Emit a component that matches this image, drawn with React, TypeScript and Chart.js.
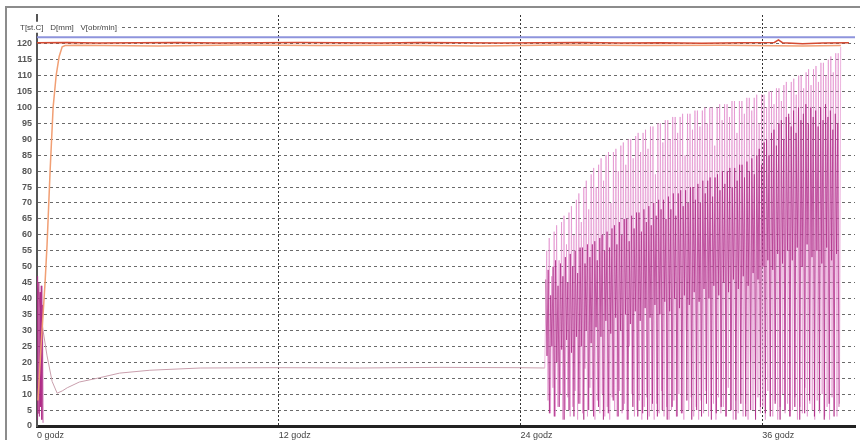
import React, { useEffect, useRef } from 'react';
import { Chart, registerables } from 'chart.js';

Chart.register(...registerables);

// ---- axis ticks / labels ----
const xTickHours = [0, 12, 24, 36];
const xTickLabels = ['0 godz', '12 godz', '24 godz', '36 godz'];
const yTicks = [0, 5, 10, 15, 20, 25, 30, 35, 40, 45, 50, 55, 60, 65, 70, 75, 80, 85, 90, 95, 100, 105, 110, 115, 120, 125];
const axisTitle = 'T[st.C]   D[mm]   V[obr/min]';

// ---- blue limit line ----
const limitTimes = [0, 40.6];
const limitValues = [122, 122];

// ---- red line (T) ----
const redTimes = [0, 1.5, 3, 5, 7, 9, 11, 13, 15, 17, 19, 21, 23, 25, 27, 29, 31, 33, 35, 36.6, 36.8, 37, 38, 39, 40.3];
const redValues = [120.3, 120.4, 120.2, 120.3, 120.4, 120.2, 120.3, 120.4, 120.3, 120.2, 120.4, 120.3, 120.2, 120.3, 120.4, 120.2, 120.3, 120.1, 120.3, 120.4, 121.2, 120.3, 120.0, 120.2, 120.3];

// ---- orange line ----
const orangeTimes = [0.05, 0.2, 0.4, 0.5, 0.65, 0.8, 0.95, 1.1, 1.25, 1.4, 2, 6, 10, 14, 18, 22, 26, 30, 34, 38, 39.9];
const orangeValues = [8, 25, 45, 57, 80, 100, 110, 116, 119, 119.4, 119.5, 119.3, 119.6, 119.4, 119.5, 119.3, 119.6, 119.4, 119.5, 119.3, 119.4];

// ---- D (light pink) : start + flat part ----
const dTimes = [0, 0.15, 0.3, 0.5, 0.75, 1.0, 1.25, 1.5, 2.1, 3.0, 4.1, 5.6, 8.1, 12, 16, 20, 24, 25.2];
const dValues = [46, 38, 30, 22, 14, 10.3, 11, 12, 13.8, 15, 16.6, 17.5, 18.2, 18.3, 18.2, 18.4, 18.3, 18.2];

// ---- D oscillation (25.3h .. 39.9h) ----
const dOscStart = 25.3;
const dOscStep = 0.0613;
const dOscHighs = [
  55, 59, 47, 61, 63, 52, 64, 66, 57, 67,
  69, 60, 71, 73, 64, 75, 77, 68, 79, 81,
  75, 82, 84, 77, 85, 86, 70, 86, 87, 80,
  88, 89, 82, 90, 90, 84, 91, 92, 86, 92,
  93, 87, 94, 94, 79, 95, 95, 89, 96, 96,
  90, 97, 97, 92, 97, 98, 85, 98, 98, 93,
  99, 99, 94, 99, 100, 95, 100, 100, 88, 100,
  101, 96, 101, 101, 97, 102, 102, 92, 102, 102,
  98, 103, 103, 99, 103, 104, 95, 104, 104, 100,
  105, 105, 101, 106, 106, 102, 107, 108, 97, 108,
  109, 104, 110, 110, 106, 111, 112, 107, 112, 113,
  108, 114, 114, 110, 115, 116, 111, 117, 117, 119,
];
const dOscLows = [
  8, 4, 12, 3, 6, 10, 2, 5, 9, 3,
  6, 11, 2, 7, 4, 18, 3, 12, 5, 2,
  8, 4, 10, 3, 6, 2, 9, 5, 3, 11,
  4, 7, 2, 25, 10, 3, 5, 8, 2, 6,
  9, 3, 5, 2, 7, 4, 11, 3, 6, 2,
  5, 8, 3, 10, 4, 2, 30, 5, 9, 3,
  6, 2, 8, 4, 11, 3, 5, 7, 2, 9,
  4, 6, 3, 12, 5, 2, 8, 4, 10, 3,
  7, 2, 20, 5, 3, 9, 4, 6, 2, 11,
  5, 3, 8, 2, 6, 10, 4, 7, 3, 5,
  9, 2, 6, 4, 12, 3, 7, 5, 2, 8,
  4, 10, 3, 6, 2, 9, 5, 3, 7,
];

// ---- V (magenta) : initial burst ----
const vStartTimes = [0, 0.03, 0.06, 0.09, 0.12, 0.15, 0.18, 0.21, 0.24, 0.27, 0.3];
const vStartValues = [2, 47, 4, 45, 3, 42, 6, 44, 2, 38, 1];

// ---- V oscillation (25.25h .. 39.8h) ----
const vOscStart = 25.25;
const vOscStep = 0.0609;
const vOscHighs = [
  46, 49, 41, 50, 52, 44, 51, 47, 53, 45,
  54, 50, 55, 48, 56, 56, 51, 57, 53, 57,
  58, 52, 59, 60, 55, 61, 56, 62, 63, 57,
  64, 60, 65, 65, 58, 66, 62, 67, 67, 61,
  68, 64, 69, 63, 70, 66, 71, 68, 71, 65,
  72, 68, 73, 66, 73, 74, 69, 74, 70, 75,
  75, 71, 76, 70, 77, 73, 77, 78, 72, 78,
  79, 74, 80, 76, 80, 81, 75, 81, 77, 82,
  82, 78, 83, 80, 84, 79, 85, 87, 82, 89,
  90, 85, 92, 93, 88, 95, 96, 90, 97, 98,
  94, 99, 92, 100, 96, 98, 101, 95, 100, 97,
  99, 94, 100, 96, 101, 97, 99, 93, 98, 95,
];
const vOscLows = [
  22, 4, 25, 3, 20, 6, 24, 2, 27, 5,
  23, 3, 28, 7, 25, 2, 30, 5, 26, 3,
  31, 6, 28, 2, 33, 4, 29, 8, 34, 3,
  30, 5, 35, 2, 32, 6, 36, 3, 33, 4,
  37, 2, 34, 7, 38, 3, 35, 5, 39, 2,
  36, 6, 40, 3, 37, 4, 41, 8, 38, 2,
  42, 5, 39, 3, 43, 7, 40, 2, 44, 4,
  41, 6, 45, 3, 42, 5, 46, 2, 43, 7,
  47, 3, 44, 5, 48, 2, 46, 6, 50, 4,
  52, 3, 49, 7, 54, 2, 51, 5, 55, 3,
  52, 6, 56, 2, 50, 4, 57, 8, 53, 3,
  55, 5, 51, 2, 56, 7, 52, 3, 54, 6,
];

type Pt = { x: number; y: number | null };

function zipPoints(times: number[], values: number[]): Pt[] {
  return times.map((t, i) => ({ x: t, y: values[i] }));
}

function oscPoints(start: number, step: number, highs: number[], lows: number[]): Pt[] {
  const seq: number[] = [];
  highs.forEach((h, i) => {
    seq.push(h);
    if (i < lows.length) seq.push(lows[i]);
  });
  return seq.map((v, i) => ({ x: start + i * step, y: v }));
}

const axisTitlePlugin = {
  id: 'axisTitleText',
  afterDraw(chart: any) {
    const { ctx, chartArea } = chart;
    const y = chart.scales.y;
    const py = y.getPixelForValue(125);
    ctx.save();
    ctx.font = '8px "Liberation Sans", Arial, sans-serif';
    const x0 = chartArea.left - 17;
    const w = ctx.measureText(axisTitle).width;
    ctx.fillStyle = '#ffffff';
    ctx.fillRect(x0 - 2, py - 6, w + 4, 11);
    ctx.fillStyle = '#444';
    ctx.textBaseline = 'middle';
    ctx.textAlign = 'left';
    ctx.fillText(axisTitle, x0, py);
    ctx.restore();
  },
};

export default function App() {
  const ref = useRef<HTMLCanvasElement>(null);

  useEffect(() => {
    document.body.style.margin = '0';
    const canvas = ref.current!;
    const dData: Pt[] = [...zipPoints(dTimes, dValues), ...oscPoints(dOscStart, dOscStep, dOscHighs, dOscLows)];
    const vData: Pt[] = [
      ...zipPoints(vStartTimes, vStartValues),
      { x: 0.35, y: null },
      ...oscPoints(vOscStart, vOscStep, vOscHighs, vOscLows),
    ];

    const chart = new Chart(canvas, {
      type: 'line',
      data: {
        datasets: [
          {
            label: 'limit',
            data: zipPoints(limitTimes, limitValues),
            borderColor: '#8e94dc',
            borderWidth: 2,
            pointRadius: 0,
            tension: 0,
          },
          {
            label: 'T',
            data: zipPoints(redTimes, redValues),
            borderColor: '#d44a32',
            borderWidth: 1.5,
            pointRadius: 0,
            tension: 0,
          },
          {
            label: 'T2',
            data: zipPoints(orangeTimes, orangeValues),
            borderColor: '#f19f74',
            borderWidth: 1.5,
            pointRadius: 0,
            tension: 0,
          },
          {
            label: 'V',
            data: vData,
            borderColor: 'rgba(172,40,132,0.7)',
            borderWidth: 1,
            pointRadius: 0,
            tension: 0,
            spanGaps: false,
          },
          {
            label: 'D',
            data: dData,
            borderColor: 'rgba(226,140,205,0.65)',
            borderWidth: 1,
            pointRadius: 0,
            tension: 0,
            segment: {
              borderColor: (c: any) => (c.p0.parsed.x < 25.2 ? '#c99fad' : 'rgba(226,140,205,0.65)'),
            },
          },
        ],
      },
      options: {
        animation: false,
        responsive: false,
        devicePixelRatio: 1,
        parsing: false as any,
        normalized: true,
        layout: { padding: { left: 0, right: 5, top: 15, bottom: 0 } },
        plugins: {
          legend: { display: false },
          tooltip: { enabled: false },
        },
        scales: {
          x: {
            type: 'linear',
            min: 0,
            max: 40.6,
            afterBuildTicks: (scale: any) => {
              scale.ticks = xTickHours.map((v) => ({ value: v }));
            },
            afterFit: (scale: any) => {
              scale.height = 14;
            },
            ticks: {
              align: 'start',
              maxRotation: 0,
              autoSkip: false,
              padding: 4,
              color: '#444',
              font: { family: '"Liberation Sans", Arial, sans-serif', size: 9 },
              callback: (_v: any, i: number) => xTickLabels[i],
            },
            grid: {
              color: '#333',
              lineWidth: 1,
              drawTicks: false,
            },
            border: { display: true, color: '#222', width: 3, dash: [2, 2] },
          },
          y: {
            type: 'linear',
            min: 0,
            max: 129,
            afterBuildTicks: (scale: any) => {
              scale.ticks = yTicks.map((v) => ({ value: v }));
            },
            afterFit: (scale: any) => {
              scale.width = 37;
            },
            ticks: {
              autoSkip: false,
              padding: 5,
              color: '#555',
              font: { family: '"Liberation Sans", Arial, sans-serif', size: 9, weight: 'bold' },
              callback: (v: any) => (v === 125 ? '' : String(v)),
            },
            grid: {
              color: '#6a6a6a',
              lineWidth: 1,
              drawTicks: false,
            },
            border: { display: true, color: '#555', width: 2, dash: [3, 3] },
          },
        },
      },
      plugins: [axisTitlePlugin],
    } as any);

    return () => chart.destroy();
  }, []);

  return (
    <div style={{ position: 'relative', width: 860, height: 440, background: '#fff', overflow: 'hidden' }}>
      <canvas ref={ref} width={860} height={440} style={{ display: 'block', width: 860, height: 440 }} />
      <div
        style={{
          position: 'absolute',
          left: 5,
          top: 6,
          right: 0,
          bottom: 0,
          borderLeft: '2px solid #8c8c8c',
          borderTop: '2px solid #8c8c8c',
          pointerEvents: 'none',
        }}
      />
    </div>
  );
}
